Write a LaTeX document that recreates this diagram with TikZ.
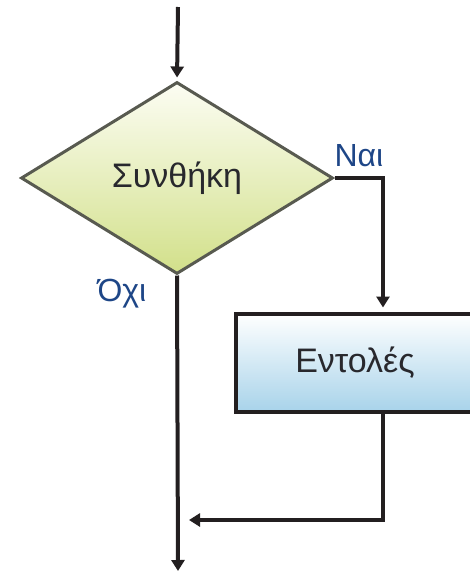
\documentclass[tikz,border=0pt]{standalone}
\usepackage{fontspec}
\setmainfont{Liberation Sans}
\usetikzlibrary{shapes.geometric,arrows.meta}
\definecolor{linec}{RGB}{35,31,32}
\definecolor{diamc}{RGB}{88,90,80}
\definecolor{diamtop}{RGB}{252,253,243}
\definecolor{diambot}{RGB}{210,224,138}
\definecolor{boxbot}{RGB}{168,211,234}
\definecolor{labc}{RGB}{30,70,135}
\definecolor{textc}{RGB}{40,40,45}
\begin{document}
\begin{tikzpicture}[x=1pt,y=-1pt,
  conn/.style={draw=linec,line width=4pt},
  arr/.style={conn,-{Triangle[width=13pt,length=11pt]}},
  cond/.style={diamond,draw=diamc,line width=3pt,top color=diamtop,bottom color=diambot,
    minimum width=312pt,minimum height=192pt,inner sep=0pt,
    font=\fontsize{34}{38}\selectfont,text=textc},
  proc/.style={rectangle,draw=linec,line width=4pt,top color=white,bottom color=boxbot,
    minimum width=238pt,minimum height=98pt,inner sep=0pt,
    font=\fontsize{34}{38}\selectfont,text=textc},
  lab/.style={font=\fontsize{32}{36}\selectfont,text=labc,inner sep=0pt}]
\useasboundingbox (0,0) rectangle (470,573);
\clip (0,0) rectangle (470,573);
\node[cond] (c) at (177,178) {Συνθήκη};
\node[proc] (b) at (355,362.5) {Εντολές};
\node[lab] (yes) at (359,156) {Ναι};
\node[lab] (no) at (122,294) {Όχι};
\coordinate (start) at (178,7);
\coordinate (end) at (178,571);
\coordinate (join) at (189,520);
\draw[arr,shorten >=3pt] (start) -- (c.north);
\draw[arr,shorten >=4pt] (c.east) -| ([xshift=28pt]b.north);
\draw[arr] ([xshift=28pt]b.south) |- (join);
\draw[arr] (c.south) -- (end);
\end{tikzpicture}
\end{document}
